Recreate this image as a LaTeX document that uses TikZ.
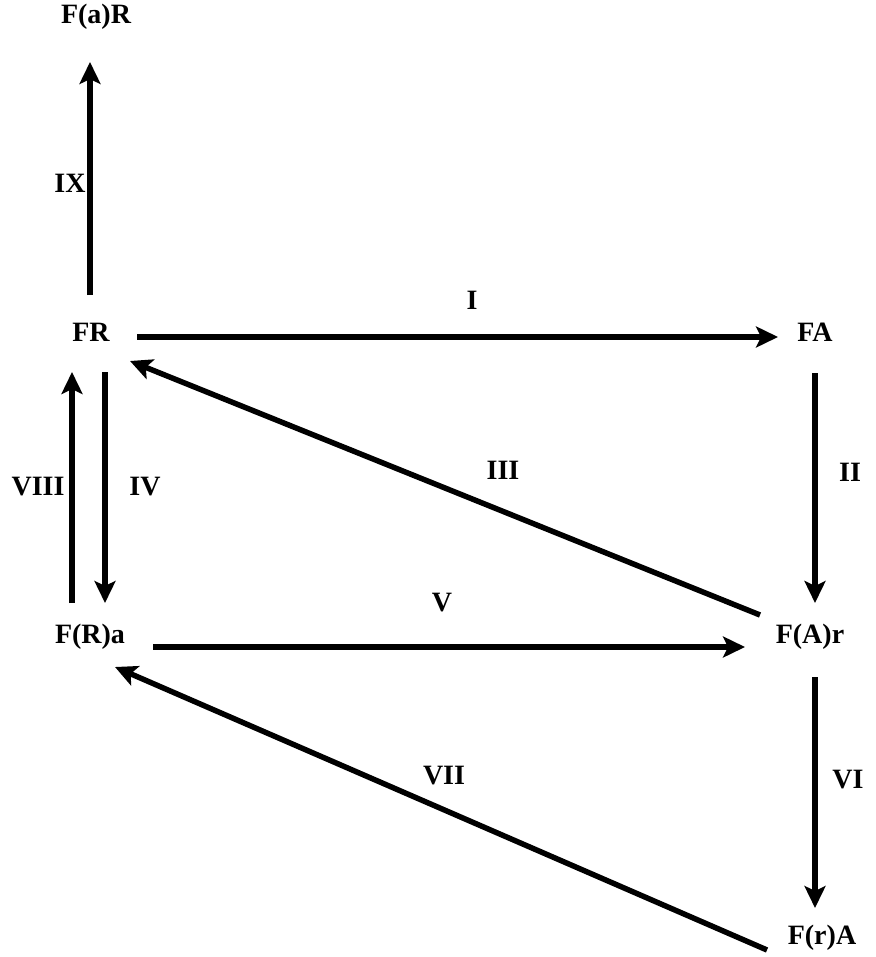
\documentclass[tikz,border=0pt]{standalone}
\usepackage{fontspec}
\setmainfont{Liberation Serif}
\usetikzlibrary{arrows.meta}
\begin{document}
\begin{tikzpicture}[x=1pt,y=-1pt,
  lbl/.style={font=\fontsize{28}{32}\selectfont\bfseries, inner sep=0pt},
  arr/.style={line width=5.5pt, -{Stealth[length=22pt,width=21pt,inset=5pt]}}]
\useasboundingbox (0,0) rectangle (875,957);
\node[lbl] (FaR) at (96,17) {F(a)R};
\node[lbl] (FR) at (91,332) {FR};
\node[lbl] (FA) at (815,332) {FA};
\node[lbl] (FRa) at (90,637) {F(R)a};
\node[lbl] (FAr) at (810,637) {F(A)r};
\node[lbl] (FrA) at (822,938) {F(r)A};
% edge labels
\node[lbl] (l9) at (70,183) {IX};
\node[lbl] (l1) at (472,300) {I};
\node[lbl] (l2) at (850,472) {II};
\node[lbl] (l3) at (503,470) {III};
\node[lbl] (l4) at (145,487) {IV};
\node[lbl] (l8) at (38,487) {VIII};
\node[lbl] (l5) at (442,603) {V};
\node[lbl] (l6) at (848,780) {VI};
\node[lbl] (l7) at (444,776) {VII};
% arrows
\draw[arr] ([shift={(-1,-37)}]FR.center) -- ([shift={(-6,45)}]FaR.center);
\draw[arr] ([shift={(46,5)}]FR.center) -- ([shift={(-37,5)}]FA.center);
\draw[arr] ([shift={(0,41)}]FA.center) -- ([shift={(5,-34)}]FAr.center);
\draw[arr] ([shift={(-50,-22)}]FAr.center) -- ([shift={(39,29)}]FR.center);
\draw[arr] ([shift={(14,40)}]FR.center) -- ([shift={(15,-34)}]FRa.center);
\draw[arr] ([shift={(-18,-34)}]FRa.center) -- ([shift={(-19,40)}]FR.center);
\draw[arr] ([shift={(63,10)}]FRa.center) -- ([shift={(-65,10)}]FAr.center);
\draw[arr] ([shift={(5,40)}]FAr.center) -- ([shift={(-7,-30)}]FrA.center);
\draw[arr] ([shift={(-55,12)}]FrA.center) -- ([shift={(25,30)}]FRa.center);
\end{tikzpicture}
\end{document}
